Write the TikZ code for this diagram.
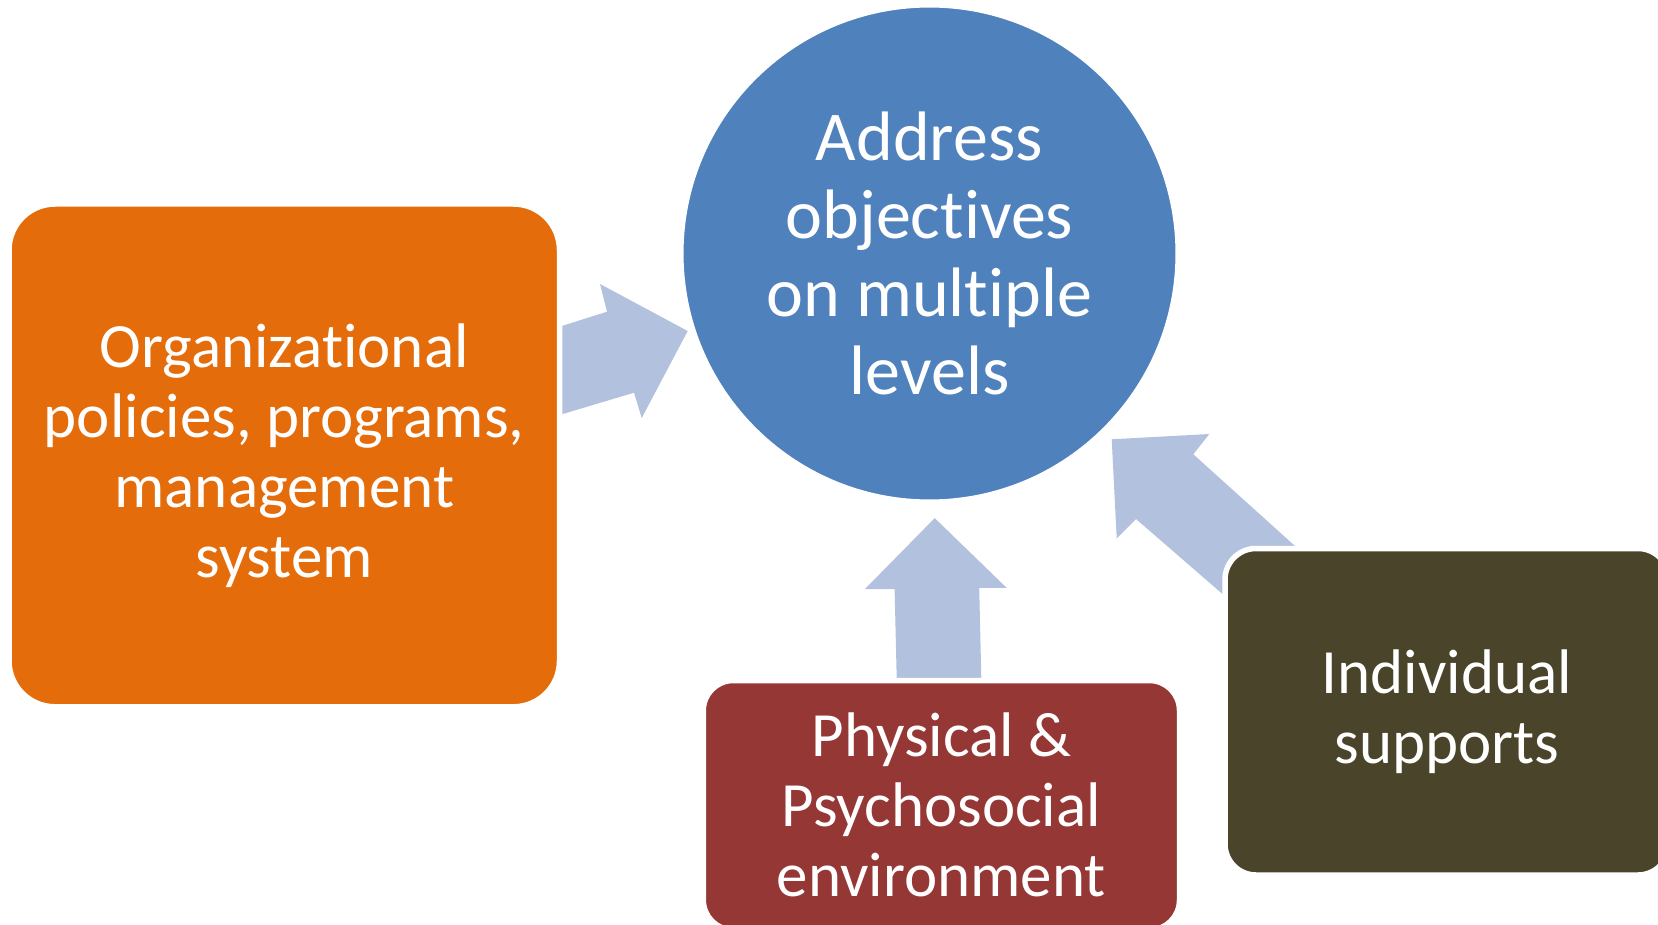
\documentclass[tikz,border=0pt]{standalone}
\usepackage{fontspec}
\setmainfont{Carlito}[Ligatures=NoCommon]
\definecolor{orangeF}{HTML}{E46C0A}
\definecolor{blueF}{HTML}{4F81BD}
\definecolor{redF}{HTML}{953735}
\definecolor{brownF}{HTML}{4A452A}
\definecolor{arrowF}{HTML}{B2C2DE}
\begin{document}
\begin{tikzpicture}[x=0.5pt,y=-0.5pt,
  box/.style={rectangle, rounded corners=#1, draw=white, line width=2.75pt,
    text=white, align=center, inner sep=0pt,
    font=\fontsize{31.5}{35}\selectfont},
  hub/.style={circle, draw=white, line width=2.75pt, text=white, align=center,
    inner sep=0pt, font=\fontsize{35}{38.9}\selectfont},
  blockarrow/.style={fill=arrowF}]
\useasboundingbox (0,0) rectangle (1658,925);
\clip (0,0) rectangle (1658,925);
% block arrows (tails hidden behind the boxes)
\fill[blockarrow] (540,332.9) -- (607,311.7) -- (600,284) -- (687.7,331)
  -- (641.7,418) -- (634,392.7) -- (540,420.8) -- cycle;
\fill[blockarrow] (897.2,700) -- (894.6,589) -- (865,589) -- (934.7,518.1)
  -- (1006.7,587.9) -- (979.2,587.9) -- (981.8,700) -- cycle;
\fill[blockarrow] (1252.5,620) -- (1136,519) -- (1116.7,538.3) -- (1111.7,439.3)
  -- (1209.3,434) -- (1193.3,454.3) -- (1321.6,570) -- cycle;
% boxes
\node[box=23pt, fill=orangeF, minimum width=275.25pt, minimum height=251.4pt]
  (org) at (284.25,455.4) {Organizational\\policies, programs,\\management\\system};
\node[box=15pt, fill=redF, minimum width=238.1pt, minimum height=124.75pt]
  (env) at (941.4,805.25) {Physical \&\\Psychosocial\\environment};
\node[box=15.5pt, fill=brownF, minimum width=222pt, minimum height=163.25pt]
  (ind) at (1447,711.75) {Individual\\supports};
\node[hub, fill=blueF, minimum size=248.7pt]
  (obj) at (929.5,253.5) {Address\\objectives\\on multiple\\levels};
\end{tikzpicture}
\end{document}
